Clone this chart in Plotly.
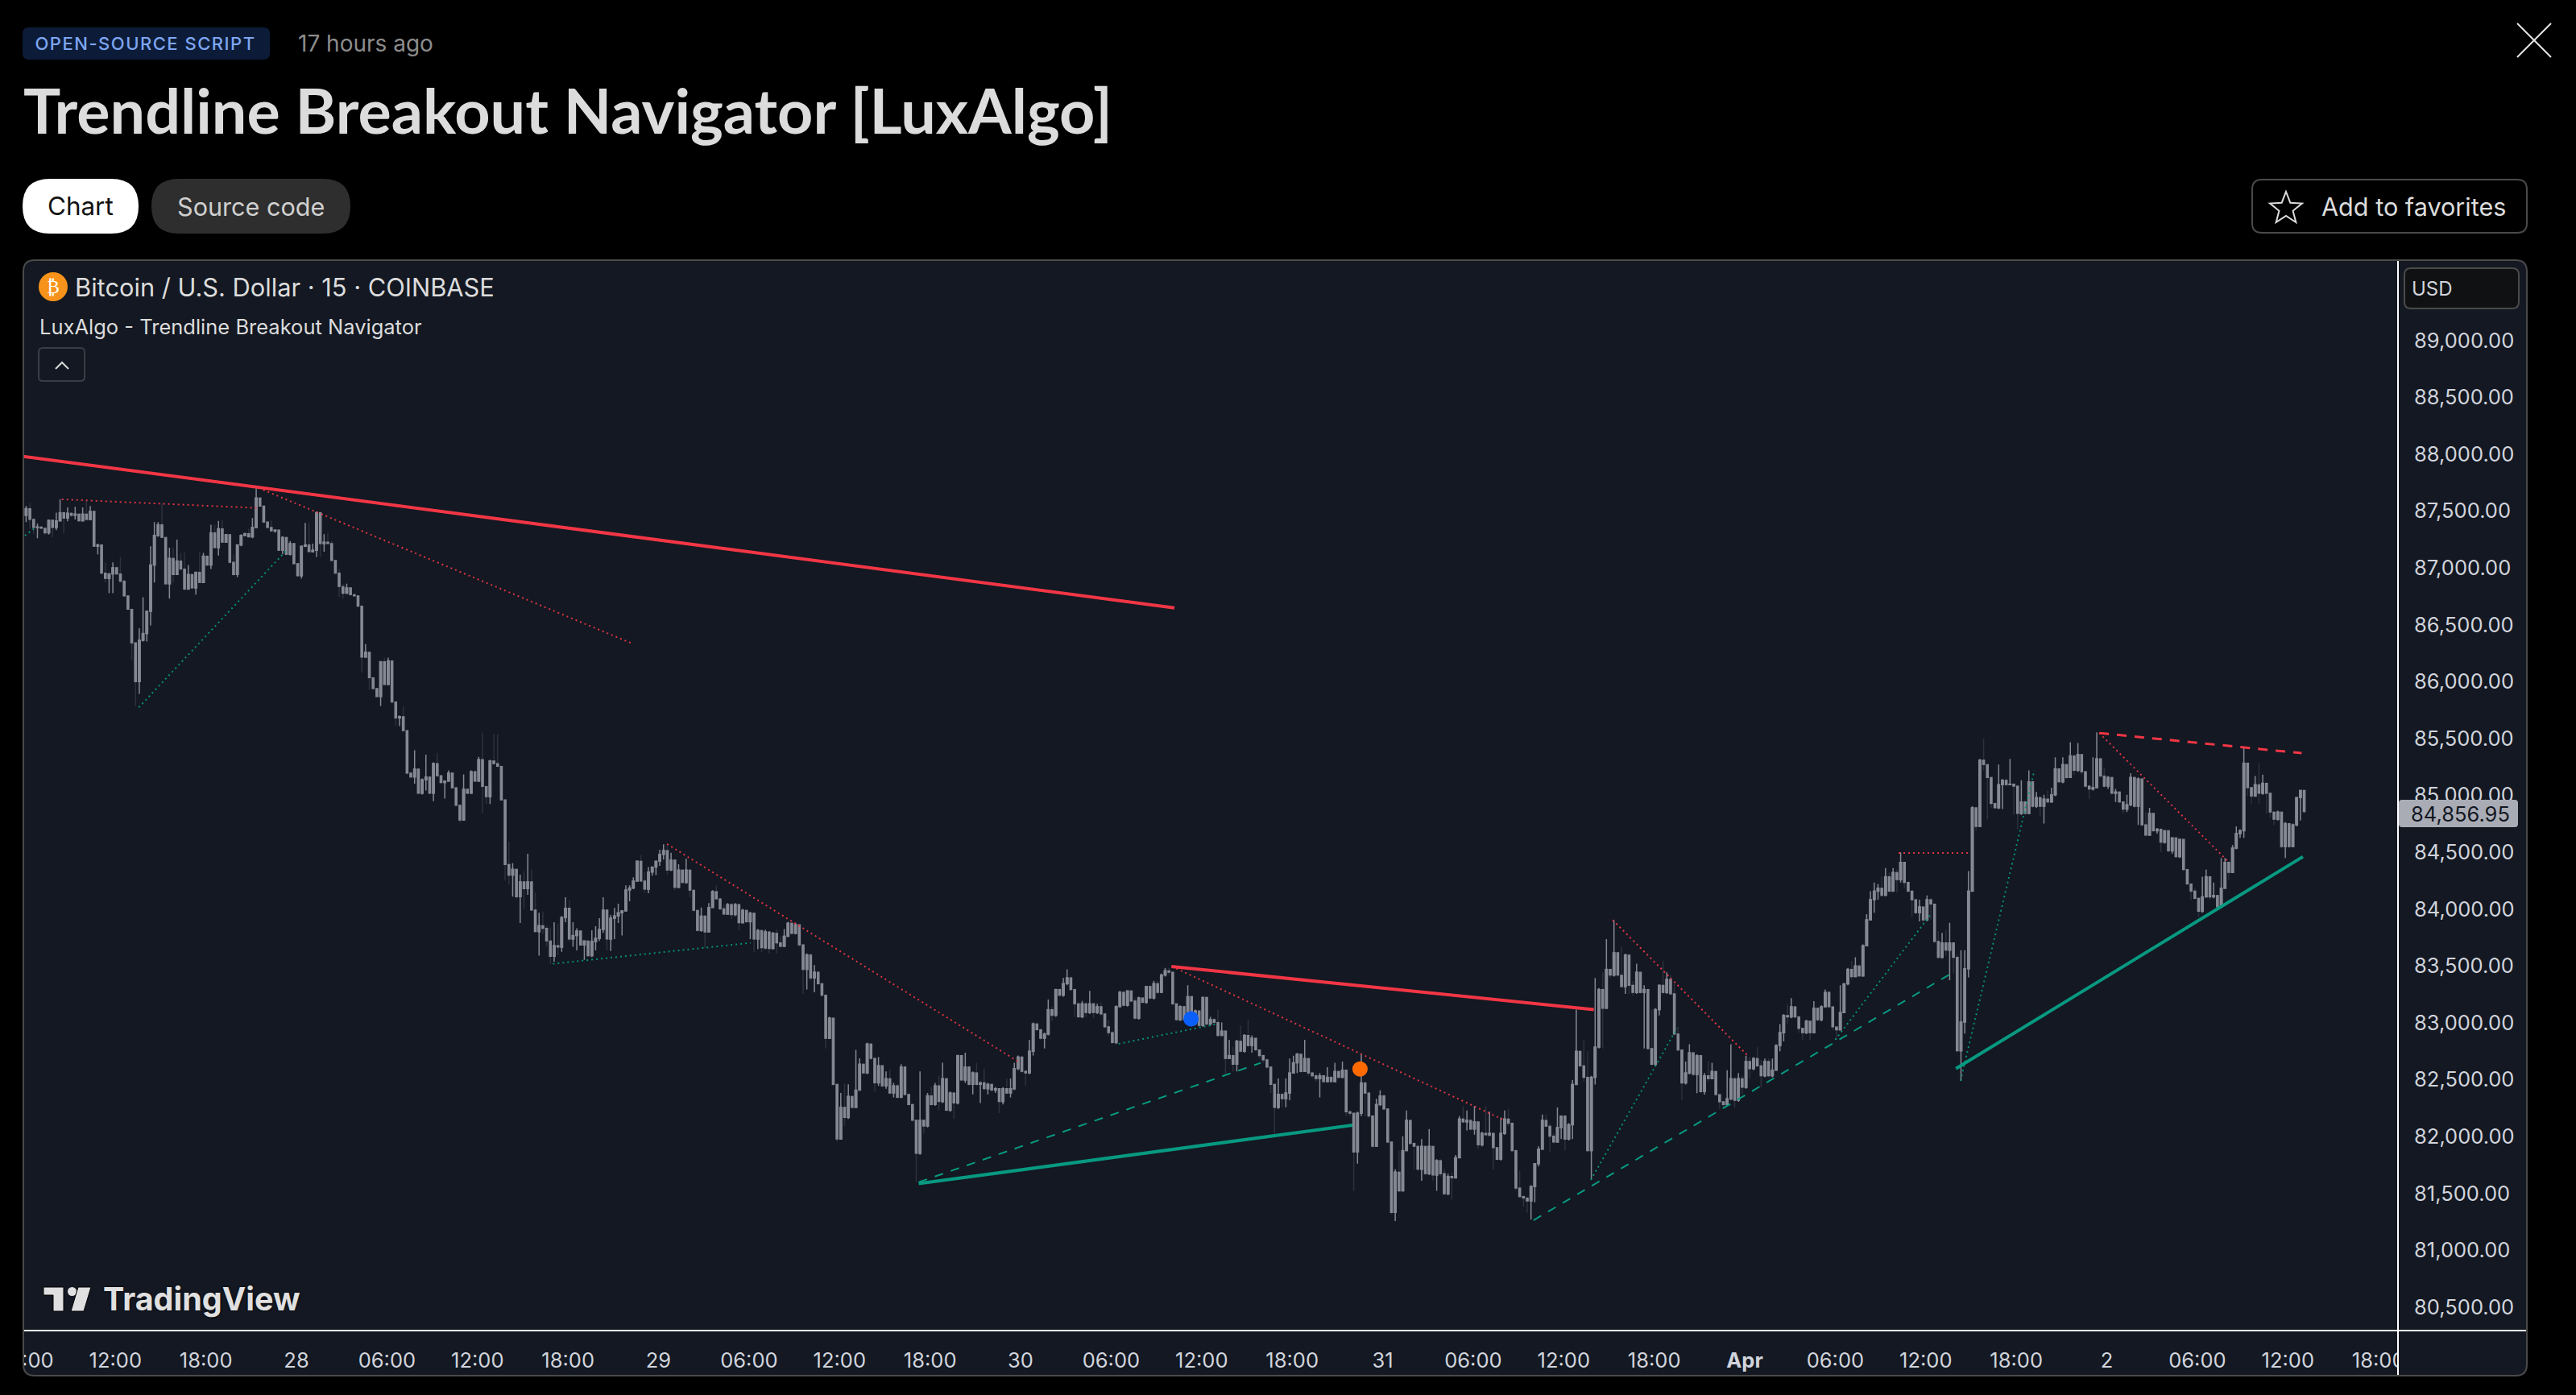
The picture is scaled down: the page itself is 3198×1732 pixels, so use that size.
import math
import pandas as pd
import plotly.graph_objects as go

W, H = 3198, 1732
BG = "#000000"
PANEL = "#131822"
GREY = "#868993"
DARK_WICK = "#2d313e"
RED = "#f23645"
GREEN = "#089981"

first_open = 87344
closes = [
87462,87521,87426,87355,87360,87348,87308,87419,87355,87414,
87485,87438,87480,87462,87473,87414,87473,87426,87497,87190,
87202,86954,86907,86947,87001,86947,86883,86754,86636,86341,
86000,86364,86423,86619,87025,87285,87379,87268,86860,87084,
86942,87060,86990,86813,86942,86824,86961,86872,87103,87025,
87308,87178,87344,87226,87292,87049,86942,87202,87285,87301,
87273,87355,87615,87544,87403,87355,87325,87332,87155,87268,
87119,87214,87037,86931,87190,87202,87143,87155,87485,87214,
87226,87214,87065,86954,86836,86777,86824,86765,86754,86664,
86216,86258,86034,85939,85869,86175,85975,86182,85821,85680,
85692,85569,85196,85161,85231,85019,85137,85161,85019,85279,
85172,85113,85125,85196,85066,84913,84783,85054,85019,85208,
85125,85314,85078,84988,85302,85279,85255,84960,84392,84298,
84350,84109,84239,84180,84239,83991,83802,83854,83831,83720,
83585,83679,83665,83925,84007,83736,83767,83807,83684,83720,
83590,83715,83743,83821,83991,83736,83920,83939,83967,83984,
84168,84185,84246,84421,84246,84175,84326,84369,84421,84482,
84515,84343,84431,84191,84343,84234,84343,84166,83989,83812,
83938,83799,84014,84153,84090,84002,83956,84040,83951,84040,
83880,83989,83888,83964,83736,83812,83660,83799,83653,83787,
83703,83673,83761,83875,83787,83862,83685,83470,83597,83395,
83445,83344,83243,82863,83041,82459,81978,82256,82168,82353,
82256,82408,82636,82560,82813,82687,82472,82623,82446,82509,
82383,82446,82345,82611,82370,82282,82143,81852,82143,82092,
82358,82282,82446,82307,82509,82231,82383,82295,82712,82497,
82611,82459,82560,82459,82472,82421,82459,82408,82421,82307,
82421,82383,82421,82598,82699,82573,82560,82750,82990,82939,
82864,82901,83116,83066,83293,83243,83344,83395,83293,83167,
83053,83167,83091,83167,83091,83142,83078,82965,82914,82826,
83142,83268,83154,83281,83192,83041,83218,83180,83319,83218,
83344,83268,83420,83458,83445,83167,83028,83142,83028,83230,
83028,83104,82977,83223,82990,83028,83003,82889,82927,82686,
82712,82636,82838,82750,82889,82800,82864,82762,82712,82674,
82611,82459,82256,82370,82332,82383,82559,82648,82724,82572,
82686,82559,82534,82509,82534,82483,82521,82483,82572,82521,
82584,82218,82205,81864,82205,82471,82382,82180,81914,82281,
82357,82243,81952,81333,81687,81522,81876,82142,81939,81914,
81712,81914,81674,81914,81661,81788,81674,81497,81649,81636,
81813,82154,82129,82142,82066,82129,81927,82028,82015,82028,
81902,81800,82028,82154,82117,81876,81547,81472,81459,81434,
81560,81762,81889,82142,82091,82003,81952,82079,82180,81977,
82104,82458,82749,82622,82521,81876,82521,82787,83293,83128,
83470,83419,83616,83419,83318,83596,83330,83267,83444,83267,
83293,82774,82635,83116,83330,83267,83381,83255,82901,82761,
82471,82559,82736,82546,82711,82395,82534,82509,82572,82369,
82306,82281,82332,82509,82319,82509,82433,82660,82597,82686,
82622,82534,82660,82534,82584,82799,82913,83065,83052,83141,
83052,82951,82913,83014,82913,83128,83027,83141,83267,83141,
82964,82938,83090,83343,83470,83406,83500,83412,83677,83905,
84082,84158,84183,84120,84284,84158,84322,84259,84411,84234,
84158,84082,83968,84019,83905,84082,84044,83715,83576,83703,
83639,83703,83576,82754,83007,83475,84158,84891,84727,85309,
85271,85157,84929,84891,85094,85132,85094,85099,85081,84841,
84942,84841,85119,84904,84980,84904,84967,84942,85005,85233,
85119,85271,85157,85347,85220,85359,85208,85081,85056,85068,
85321,85170,85081,85157,85018,85030,84942,84879,84917,85157,
84904,85144,84740,84651,84841,84689,84702,84588,84689,84512,
84626,84461,84613,84348,84221,84158,84095,83981,84107,84284,
84107,84120,84019,84183,84411,84322,84537,84664,84689,85283,
85068,84993,85094,85018,85106,85018,84853,84790,84853,84550,
84752,84550,84740,84980,85043,84856.95,
]
highs = [
87497,87544,87568,87438,87391,87367,87348,87426,87426,87485,
87603,87497,87532,87490,87537,87480,87532,87598,87544,87497,
87214,87190,87049,86954,87049,87013,87096,86895,86754,86636,
86341,86470,86742,86624,87190,87403,87403,87568,87268,87178,
87178,87249,87131,87136,87025,86947,86966,87143,87131,87112,
87379,87379,87414,87419,87296,87292,87119,87207,87296,87308,
87344,87438,87698,87615,87544,87414,87419,87339,87332,87277,
87261,87237,87214,87037,87197,87396,87396,87214,87497,87485,
87296,87308,87237,87065,86990,86860,86860,86824,86765,86758,
86664,86329,86263,86034,85939,86175,86211,86211,85975,85821,
85703,85786,85569,85201,85397,85231,85149,85357,85168,85290,
85373,85177,85130,85220,85201,85078,84913,85184,85059,85220,
85220,85338,85550,85083,85314,85538,85538,85255,84960,84593,
84404,84350,84303,84333,84487,84350,84144,83967,83979,83849,
83838,83885,83873,83939,84104,84081,83885,83831,83807,83724,
83724,83814,83849,83920,84104,83991,83949,84010,84048,83991,
84208,84208,84279,84428,84475,84326,84369,84373,84421,84522,
84569,84571,84495,84431,84394,84351,84444,84351,84166,83989,
84014,83938,84052,84166,84209,84103,84040,84052,84052,84052,
84040,84002,83996,83976,83819,83825,83812,83819,83799,83799,
83825,83761,83825,83888,83901,83880,83862,83685,83610,83508,
83508,83445,83344,83243,83053,83041,82459,82383,82464,82459,
82358,82762,82687,82649,82826,82826,82687,82699,82623,82573,
82585,82471,82459,82636,82623,82370,82282,82143,82573,82143,
82383,82434,82471,82535,82648,82509,82396,82383,82712,82712,
82737,82623,82573,82648,82484,82598,82472,82459,82434,82421,
82434,82510,82510,82648,82712,82699,82585,82851,83003,83003,
82952,82914,83205,83142,83293,83293,83395,83470,83407,83293,
83180,83192,83180,83281,83180,83167,83180,83078,83028,82927,
83154,83281,83281,83281,83218,83218,83230,83223,83319,83331,
83369,83369,83433,83483,83483,83445,83167,83154,83142,83331,
83230,83116,83104,83230,83230,83053,83041,83116,83003,82927,
82851,82788,82851,82977,82901,83028,82889,82851,82762,82724,
82686,82611,82459,82510,82383,82510,82686,82711,82736,82724,
82850,82686,82572,82559,82559,82534,82610,82534,82648,82584,
82660,82584,82230,82205,82218,82723,82483,82395,82193,82332,
82407,82370,82243,81952,81712,81876,82003,82230,82142,81952,
81927,81977,81914,82066,81914,81800,81800,81712,81674,81687,
81838,82180,82268,82230,82154,82268,82129,82041,82268,82218,
82028,81902,82167,82230,82243,82117,81876,81699,81484,81472,
81573,81762,81914,82193,82193,82117,82028,82256,82180,82180,
82117,82496,83116,82761,82850,82749,82534,83394,83305,83444,
83735,83470,83900,83621,83672,83609,83596,83368,83520,83444,
83330,83293,83116,83128,83330,83546,83444,83419,83343,82964,
82761,82660,82812,82736,82724,82711,82559,82660,82648,82572,
82369,82306,82584,82812,82521,82559,82534,82711,82698,82698,
82787,82673,82686,82686,82686,82812,82989,83078,83166,83217,
83141,83065,82951,83027,83014,83191,83128,83153,83293,83280,
83141,82964,83330,83343,83482,83545,83576,83513,83690,83956,
84158,84234,84221,84284,84360,84322,84360,84347,84499,84411,
84246,84158,84082,84082,84019,84120,84095,84044,83804,83791,
83817,83880,83703,83602,83639,83639,84335,84904,84891,85321,
85498,85271,85157,84929,85271,85144,85144,85321,85106,85094,
85132,84955,85220,85119,85030,84993,85005,85043,85068,85334,
85233,85334,85271,85468,85359,85460,85359,85208,85094,85334,
85554,85321,85245,85170,85144,85056,85030,84942,85005,85195,
85157,85157,85144,84854,84891,84841,84714,84702,84694,84689,
84626,84626,84613,84613,84348,84221,84183,84095,84284,84347,
84284,84234,84120,84449,84449,84411,84562,84727,84702,85423,
85283,85068,85170,85283,85182,85094,85018,84853,84866,84790,
84765,84752,84752,84980,85043,85030,
]
lows = [
87285,87403,87344,87296,87261,87339,87292,87292,87268,87332,
87410,87301,87410,87450,87426,87410,87410,87414,87419,87183,
87119,86947,86872,86777,86777,86938,86872,86749,86631,86187,
85786,85892,86352,86352,86494,86872,87273,87261,86848,86730,
86872,86942,86978,86801,86813,86813,86765,86867,86872,87018,
86990,87174,87108,87221,87221,87037,86931,86919,87190,87282,
87268,87261,87355,87537,87396,87348,87320,87308,87150,87119,
87112,87108,87032,86924,86907,87183,87136,87136,87096,87096,
87143,87207,87060,86947,86742,86730,86772,86758,86749,86659,
86081,86211,85928,85932,85862,85786,85970,85970,85814,85609,
85609,85562,85184,85149,85102,85007,85007,85043,85012,84948,
85161,85102,84972,85121,85059,84908,84759,84783,85012,85019,
85121,85125,84842,84924,84924,85271,85248,84955,84251,84215,
84109,84090,83878,84003,84126,83984,83797,83590,83779,83672,
83519,83538,83595,83625,83885,83712,83668,83637,83680,83554,
83578,83578,83637,83720,83790,83637,83632,83736,83878,83767,
83979,84069,84175,84241,84246,84144,84140,84293,84298,84380,
84435,84305,84335,84166,84184,84224,84224,84103,83976,83799,
83799,83660,83799,84014,84077,83989,83946,83951,83913,83938,
83812,83875,83875,83736,83622,83648,83622,83648,83610,83648,
83610,83660,83673,83754,83774,83779,83673,83255,83293,83369,
83268,83331,83230,82775,82858,82446,81953,81978,82092,82155,
82244,82251,82408,82547,82547,82674,82396,82446,82434,82421,
82370,82345,82332,82345,82358,82269,82130,81599,81839,82029,
82080,82269,82269,82231,82295,82218,82218,82155,82282,82484,
82471,82446,82370,82446,82295,82408,82370,82396,82383,82206,
82282,82370,82345,82408,82585,82560,82446,82547,82712,82927,
82851,82775,82889,83015,83053,83230,83230,83331,83281,83053,
83041,83041,83053,83078,83041,83078,83066,82952,82889,82813,
82813,83142,83142,83142,83180,83028,83028,83167,83167,83205,
83205,83255,83268,83407,83420,83154,83015,83015,83015,83028,
82965,82978,82965,82965,82977,82977,82990,82876,82889,82547,
82686,82573,82573,82737,82737,82788,82737,82750,82686,82648,
82598,82383,82029,82244,82257,82257,82319,82559,82559,82559,
82572,82534,82514,82483,82344,82471,82483,82471,82521,82509,
82514,82180,82180,81522,81762,82180,82180,82167,81902,81914,
82268,82230,81939,81320,81257,81510,81522,81876,81927,81712,
81699,81611,81661,81661,81611,81522,81649,81484,81484,81446,
81636,81813,82117,82053,82053,82016,81889,81914,82003,82003,
81712,81788,81788,82015,82091,81864,81522,81459,81383,81332,
81269,81421,81737,81889,82079,81864,81939,81952,81977,81876,
81965,81977,82458,82610,82483,81864,81623,82458,82774,82774,
83128,83394,83406,83406,83305,83255,83255,83242,83255,83255,
82774,82761,82622,82622,83065,83255,83255,83242,82888,82749,
82319,82458,82546,82534,82382,82382,82369,82483,82509,82357,
82243,82243,82268,82319,82256,82306,82369,82420,82509,82584,
82610,82433,82521,82521,82521,82584,82749,82837,82989,83040,
83040,82913,82850,82901,82850,82913,83014,83014,83141,83128,
82938,82850,82938,83090,83330,83381,83412,83399,83412,83677,
83956,83968,84082,84107,84120,84145,84259,84145,84234,84183,
84145,83930,83956,83892,83880,83892,83905,83703,83564,83564,
83589,83374,83437,82741,82489,82906,83399,84158,84689,84727,
85220,84790,84891,84879,84879,84879,85081,85089,84828,84702,
84828,84828,84841,84891,84891,84815,84752,84929,84955,84993,
85106,85106,85144,85157,85182,85208,85182,85068,84967,85043,
85170,85157,85068,85056,85005,84942,84929,84841,84853,84904,
84891,84739,84727,84638,84643,84676,84664,84499,84575,84499,
84487,84449,84449,84335,84209,84082,84082,83930,83968,84107,
84082,84095,84006,84019,84183,84259,84322,84525,84626,84626,
84992,84929,84993,84929,85005,84841,84803,84739,84778,84537,
84449,84537,84550,84727,84778,84841,
]

first_bar = "2025-03-27 05:50"
bar_minutes = 15
x_range = ["2025-03-27 05:54", "2025-04-02 19:18"]
y_range = [80294, 89706]
price_ticks = [80500 + 500 * i for i in range(18)]

time_ticks = ["2025-03-27 06:00"] + [str(t) for t in pd.date_range("2025-03-27 12:00", "2025-04-02 18:00", freq="6h")]
time_labels = ["06:00",
 "12:00","18:00","28","06:00","12:00","18:00","29","06:00","12:00","18:00","30","06:00",
 "12:00","18:00","31","06:00","12:00","18:00","<b>Apr</b>","06:00","12:00","18:00","2","06:00",
 "12:00","18:00"]

solid_red = [
    (["2025-03-27 05:54", "2025-03-30 10:12"], [87980, 86649]),
    (["2025-03-30 10:00", "2025-03-31 14:00"], [83495, 83116]),
]
solid_green = [
    (["2025-03-29 17:15", "2025-03-30 22:00"], [81586, 82100]),
    (["2025-04-01 14:00", "2025-04-02 13:00"], [82597, 84461]),
]
dashed_green = [
    (["2025-03-29 17:15", "2025-03-30 15:55"], [81599, 82648]),
    (["2025-03-31 10:00", "2025-04-01 13:45"], [81264, 83439]),
]
dashed_red = [
    (["2025-04-01 23:30", "2025-04-02 12:55"], [85548, 85371]),
]
dotted_red = [
    (["2025-03-27 08:27", "2025-03-27 21:24"], [87603, 87527]),
    (["2025-03-27 21:48", "2025-03-28 22:10"], [87686, 86340]),
    (["2025-03-29 00:34", "2025-03-29 23:51"], [84572, 82659]),
    (["2025-03-30 10:02", "2025-03-31 08:06"], [83495, 82142]),
    (["2025-03-31 15:15", "2025-04-01 00:12"], [83904, 82712]),
    (["2025-04-01 10:12", "2025-04-01 14:54"], [84494, 84494]),
    (["2025-04-01 23:30", "2025-04-02 08:06"], [85548, 84411]),
]
dotted_green = [
    (["2025-03-27 06:00", "2025-03-27 06:42"], [87284, 87355]),
    (["2025-03-27 13:33", "2025-03-27 23:18"], [85773, 87149]),
    (["2025-03-28 17:00", "2025-03-29 06:06"], [83519, 83703]),
    (["2025-03-30 06:30", "2025-03-30 13:06"], [82815, 82992]),
    (["2025-03-31 13:48", "2025-03-31 19:30"], [81618, 82951]),
    (["2025-04-01 06:00", "2025-04-01 12:24"], [82851, 83965]),
    (["2025-04-01 14:18", "2025-04-01 19:12"], [82490, 85220]),
]
blue_dot = (["2025-03-30 11:18"], [83035])
orange_dot = (["2025-03-30 22:30"], [82594])
last_price = 84856.95

times = pd.date_range(first_bar, periods=len(closes), freq=f"{bar_minutes}min")
opens = [first_open] + closes[:-1]
hi = [max(a, b, c) for a, b, c in zip(highs, opens, closes)]
lo = [min(a, b, c) for a, b, c in zip(lows, opens, closes)]
body_top = [max(o, c) for o, c in zip(opens, closes)]
body_bot = [min(o, c) for o, c in zip(opens, closes)]

def px(x): return x / W
def py(y): return 1 - y / H

def rrect(x0, y0, x1, y1, r):
    return (f"M{px(x0+r)},{py(y0)} L{px(x1-r)},{py(y0)} Q{px(x1)},{py(y0)} {px(x1)},{py(y0+r)} "
            f"L{px(x1)},{py(y1-r)} Q{px(x1)},{py(y1)} {px(x1-r)},{py(y1)} "
            f"L{px(x0+r)},{py(y1)} Q{px(x0)},{py(y1)} {px(x0)},{py(y1-r)} "
            f"L{px(x0)},{py(y0+r)} Q{px(x0)},{py(y0)} {px(x0+r)},{py(y0)} Z")

def poly(points, close=True):
    s = "M" + " L".join(f"{px(a)},{py(b)}" for a, b in points)
    return s + (" Z" if close else "")

shapes = []
def add_path(path, fill=None, line=None, lw=0, layer="above"):
    shapes.append(dict(type="path", xref="paper", yref="paper", path=path, layer=layer,
                       fillcolor=fill if fill else "rgba(0,0,0,0)",
                       line=dict(color=line if line else "rgba(0,0,0,0)", width=lw)))

# chrome
add_path(rrect(29, 323, 3137, 1708, 14), fill=PANEL, layer="below")
add_path(rrect(28, 34, 335, 74, 8), fill="#0c1c38")
add_path(rrect(28, 222, 172, 290, 34), fill="#ffffff")
add_path(rrect(188, 222, 435, 290, 34), fill="#2e2e2e")
add_path(rrect(2796, 223, 3137, 289, 12), fill=None, line="#4a4a4a", lw=2)
# covers that clip the axis labels at the pane edges
add_path(poly([(0, 1654), (28, 1654), (28, 1708), (0, 1708)]), fill=BG)
add_path(poly([(2978, 1654), (3135, 1654), (3135, 1706), (2978, 1706)]), fill=PANEL)
# pane separators
add_path(poly([(2977, 323), (2977, 1708)], False), line="#ffffff", lw=2)
add_path(poly([(30, 1652), (3136, 1652)], False), line="#ffffff", lw=2)
add_path(rrect(29, 323, 3137, 1708, 14), line="#4a4a4a", lw=2)
# USD box and last price tag
add_path(rrect(2985, 333, 3127, 383, 8), fill="#101113", line="#4a4a4a", lw=2)
add_path(rrect(2978, 993, 3126, 1027, 4), fill="#a9acb5")
# close cross
add_path(poly([(3125, 29), (3167, 71)], False), line="#e6e6e6", lw=2)
add_path(poly([(3167, 29), (3125, 71)], False), line="#e6e6e6", lw=2)
# star
cx, cy, R, r = 2838, 259, 21, 9
star = []
for i in range(10):
    a = -math.pi / 2 + i * math.pi / 5
    rad = R if i % 2 == 0 else r
    star.append((cx + rad * math.cos(a), cy + rad * math.sin(a)))
add_path(poly(star), line="#dcdcdc", lw=2)
# legend collapse button
add_path(rrect(48, 432, 105, 473, 5), line="#3a3d45", lw=2)
add_path(poly([(69, 458), (77, 450), (85, 458)], False), line="#d8d8d8", lw=2)
# bitcoin icon
shapes.append(dict(type="circle", xref="paper", yref="paper", layer="above",
                   x0=px(48), x1=px(84), y0=py(338), y1=py(374),
                   fillcolor="#f7931a", line=dict(width=0)))
# TradingView logo
add_path(poly([(54, 1598), (79, 1598), (79, 1628), (66, 1628), (66, 1608), (54, 1608)]), fill="#e0e0e0", line="#000", lw=1)
shapes.append(dict(type="circle", xref="paper", yref="paper", layer="above",
                   x0=px(84), x1=px(95), y0=py(1598), y1=py(1609),
                   fillcolor="#e0e0e0", line=dict(width=0)))
add_path(poly([(97, 1598), (113, 1598), (104, 1628), (88, 1628)]), fill="#e0e0e0", line="#000", lw=1)

notes = []
def text(s, x, y, size, color, font="Inter", anchor="left", weight=None):
    f = dict(family=font, size=size, color=color)
    if weight:
        f["weight"] = weight
    notes.append(dict(text=s, xref="paper", yref="paper", x=px(x), y=py(y), xanchor=anchor,
                      yanchor="middle", showarrow=False, borderpad=0, font=f))

text("OPEN-SOURCE SCRIPT", 180, 54, 22, "#7ea6f2", anchor="center", weight=500)
text("17 hours ago", 369, 54, 28, "#8c8c8c")
text("<b>Trendline Breakout Navigator [LuxAlgo]</b>", 28, 136, 77.3, "#dcdcdc", font="Lato")
text("Chart", 100, 256, 31.4, "#111111", anchor="center")
text("Source code", 311, 256, 30.6, "#cfcfcf", anchor="center")
text("Add to favorites", 2881, 256, 30.6, "#dcdcdc")
text("₿", 66, 356, 23, "#ffffff", font="DejaVu Sans", anchor="center")
text("Bitcoin / U.S. Dollar · 15 · COINBASE", 92, 356, 30.8, "#dcdcdc")
text("LuxAlgo - Trendline Breakout Navigator", 48, 405, 25.5, "#dcdcdc")
text("USD", 2993, 358, 24, "#d1d4dc")
text("84,856.95", 3054, 1010, 25.5, "#131722", anchor="center")
notes.append(dict(text="<b>TradingView</b>", xref="paper", yref="paper", x=px(127), y=py(1613),
                  xanchor="left", yanchor="middle", showarrow=False, borderpad=0,
                  font=dict(family="Inter", size=39.5, color="#e0e0e0", shadow="0 0 3px #000")))

fig = go.Figure()
# wicks: bright on rising bars, dark on falling bars
fig.add_trace(go.Candlestick(
    x=times, open=opens, high=hi, low=lo, close=closes, whiskerwidth=0,
    increasing=dict(line=dict(color=GREY, width=1.5), fillcolor=GREY),
    decreasing=dict(line=dict(color=DARK_WICK, width=1.5), fillcolor=DARK_WICK),
    hoverinfo="skip", showlegend=False))
# bodies on top of the wicks
fig.add_trace(go.Candlestick(
    x=times, open=opens, high=body_top, low=body_bot, close=closes, whiskerwidth=0,
    increasing=dict(line=dict(color=GREY, width=1.2), fillcolor=GREY),
    decreasing=dict(line=dict(color=GREY, width=1.2), fillcolor=GREY),
    hoverinfo="skip", showlegend=False))

def lines(group, color, width, dash):
    for xs, ys in group:
        fig.add_trace(go.Scatter(x=xs, y=ys, mode="lines", showlegend=False, hoverinfo="skip",
                                 line=dict(color=color, width=width, dash=dash)))

lines(dotted_red, "rgba(242,54,69,0.92)", 2, "2px,4px")
lines(dotted_green, "rgba(8,153,129,0.92)", 2, "2px,4px")
lines(dashed_green, GREEN, 2, "11px,10px")
lines(dashed_red, RED, 3, "12px,10px")
lines(solid_red, RED, 4, "solid")
lines(solid_green, GREEN, 4, "solid")

for (xs, ys), color in ((blue_dot, "#0a5ffb"), (orange_dot, "#ff6a00")):
    fig.add_trace(go.Scatter(x=xs, y=ys, mode="markers", showlegend=False, hoverinfo="skip",
                             marker=dict(color=color, size=19, line=dict(width=0))))

fig.update_layout(
    width=W, height=H, margin=dict(l=0, r=0, t=0, b=0),
    paper_bgcolor=BG, plot_bgcolor="rgba(0,0,0,0)", shapes=shapes, annotations=notes,
    hovermode=False,
    xaxis=dict(domain=[px(29), px(2977)], type="date", range=x_range, rangeslider=dict(visible=False),
               tickmode="array", tickvals=time_ticks, ticktext=time_labels, tickangle=0,
               showgrid=False, zeroline=False, showline=False, ticks="outside", ticklen=14,
               tickcolor="rgba(0,0,0,0)", tickfont=dict(family="Inter", size=25.5, color="#d1d4dc"),
               anchor="y", automargin=False, ticklabeloverflow="allow"),
    yaxis=dict(domain=[py(1652), py(323)], side="right", range=y_range, tickmode="array",
               tickvals=price_ticks, tickformat=",.2f", showgrid=False, zeroline=False,
               showline=False, ticks="outside", ticklen=14, tickcolor="rgba(0,0,0,0)",
               tickfont=dict(family="Inter", size=25.5, color="#d1d4dc"), anchor="x", automargin=False),
)

fig.write_html("out.html", config=dict(displayModeBar=False),
               post_script="document.body.style.margin='0';document.body.style.background='#000';"
                           "document.querySelectorAll('.annotation-text').forEach(function(t){"
                           "if(t.textContent.indexOf('OPEN-SOURCE')===0){t.style.letterSpacing='1.5px';}});")
